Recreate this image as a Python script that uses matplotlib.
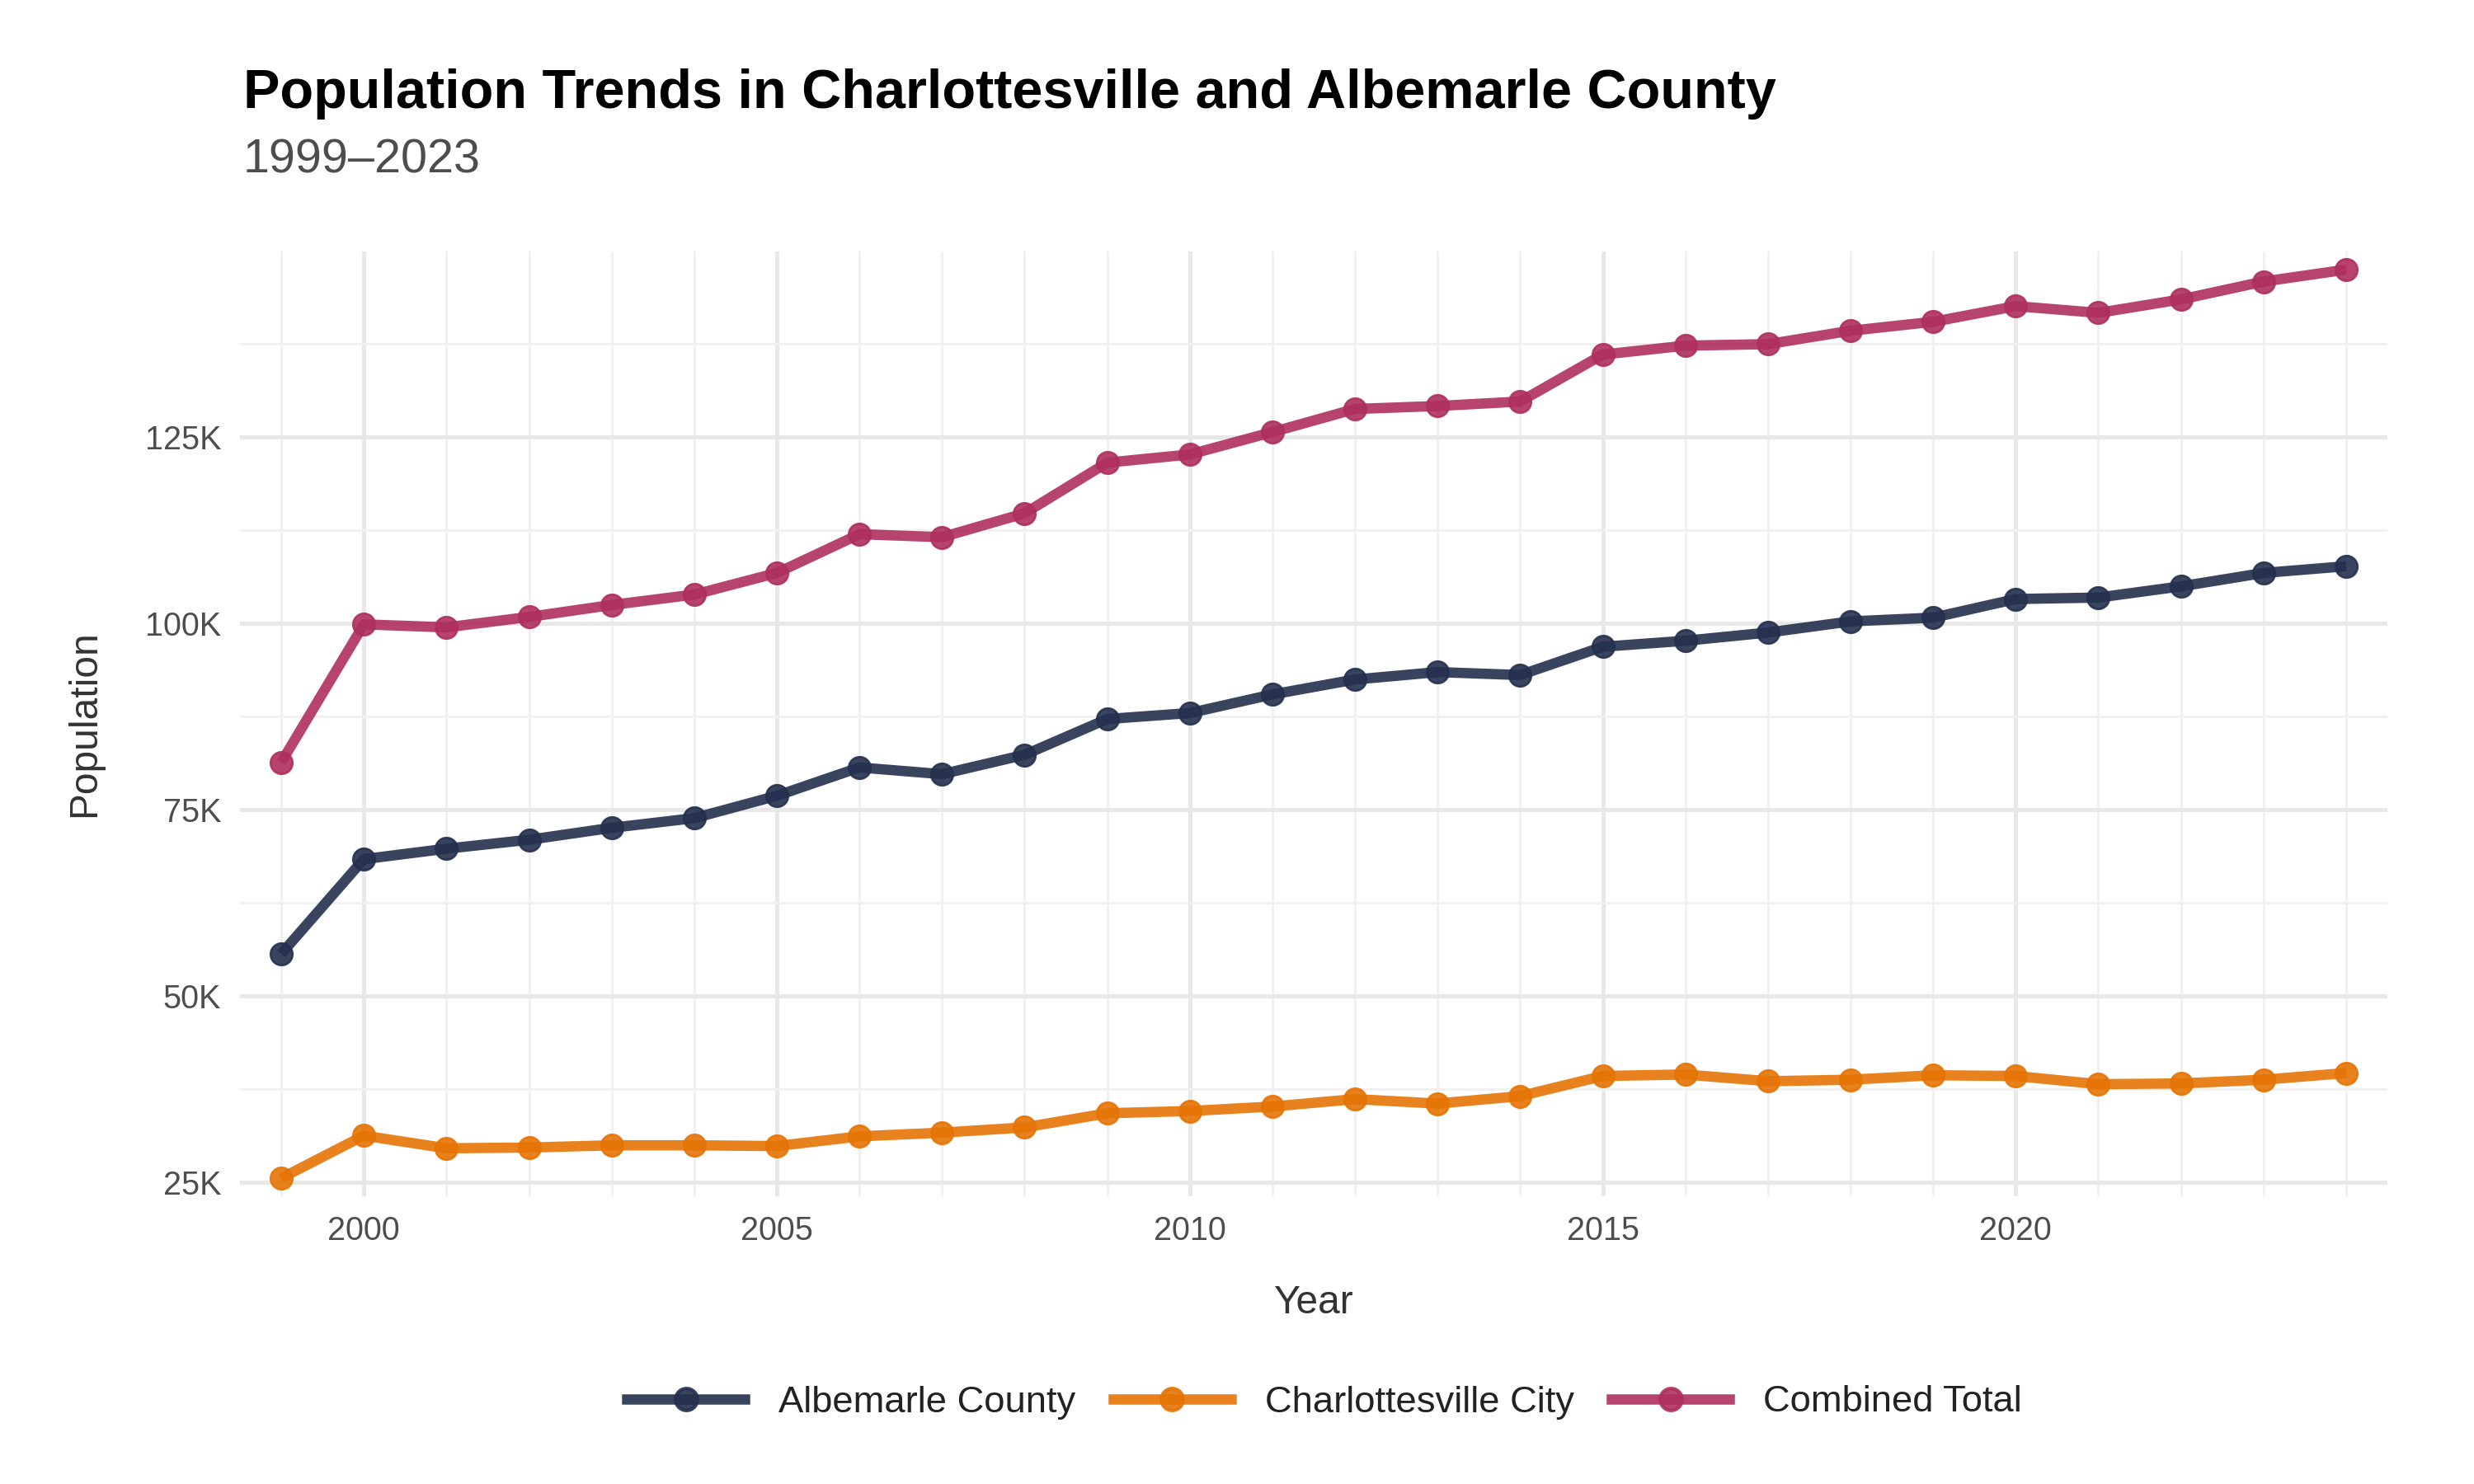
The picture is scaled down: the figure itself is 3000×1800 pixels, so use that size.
import matplotlib
matplotlib.use("Agg")
import matplotlib.pyplot as plt
from matplotlib.ticker import FixedLocator, FuncFormatter
from matplotlib.lines import Line2D

plt.rcParams['font.family'] = ['Liberation Sans', 'DejaVu Sans']

years = list(range(1999, 2025))
albemarle = [55700, 68400, 69800, 71000, 72600, 73900, 76900, 80700, 79800, 82400,
             87200, 88000, 90500, 92500, 93500, 93100, 96900, 97700, 98800, 100300,
             100800, 103300, 103500, 105000, 106800, 107700]
charlottesville = [25600, 31300, 29600, 29700, 30000, 30000, 29900, 31200, 31700, 32400,
                   34300, 34600, 35200, 36200, 35600, 36600, 39300, 39500, 38600, 38800,
                   39400, 39300, 38200, 38300, 38800, 39700]
combined = [81400, 99900, 99500, 100900, 102500, 103900, 106800, 112000, 111600, 114800,
            121600, 122700, 125700, 128800, 129200, 129800, 136100, 137300, 137500, 139300,
            140500, 142600, 141700, 143500, 145900, 147500]

series_names = ["Albemarle County", "Charlottesville City", "Combined Total"]
series_values = [albemarle, charlottesville, combined]
colors = ["#24304E", "#E57405", "#AE2F5E"]

y_major = [25000, 50000, 75000, 100000, 125000]
y_minor = [37500, 62500, 87500, 112500, 137500]
x_major = [2000, 2005, 2010, 2015, 2020]

fig = plt.figure(figsize=(10, 6), dpi=300)
ax = fig.add_axes([291/3000, 1-1451/1800, (2895-291)/3000, (1451-305)/1800])

for name, vals, c in zip(series_names, series_values, colors):
    ax.plot(years, vals, color=c, lw=3.0, alpha=0.9, solid_capstyle='butt', zorder=3)
    ax.plot(years, vals, 'o', color=c, ms=6.4, alpha=0.9, mec=c, mew=0.6, zorder=4)

allv = albemarle + charlottesville + combined
lo, hi = min(allv), max(allv)
rng = hi - lo
ax.set_ylim(lo - 0.02*rng, hi + 0.02*rng)
ax.set_xlim(years[0] - 0.02*(years[-1]-years[0]), years[-1] + 0.02*(years[-1]-years[0]))

ax.yaxis.set_major_locator(FixedLocator(y_major))
ax.yaxis.set_minor_locator(FixedLocator(y_minor))
ax.xaxis.set_major_locator(FixedLocator(x_major))
ax.xaxis.set_minor_locator(FixedLocator([y for y in years if y not in x_major]))
ax.yaxis.set_major_formatter(FuncFormatter(lambda v, p: f"{int(v/1000)}K"))

ax.grid(which='major', color='#E8E8E8', lw=1.2, zorder=0)
ax.grid(which='minor', color='#F1F1F1', lw=0.7, zorder=0)
ax.set_axisbelow(True)
for s in ax.spines.values():
    s.set_visible(False)
ax.tick_params(which='both', length=0)
ax.tick_params(axis='x', pad=5.5, labelsize=9.5, labelcolor='#4D4D4D')
ax.tick_params(axis='y', pad=5.5, labelsize=9.5, labelcolor='#4D4D4D')

ax.set_xlabel("Year", fontsize=11.5, color='#333333', labelpad=11)
ax.set_ylabel("Population", fontsize=11.5, color='#333333', labelpad=12)

fig.text(295/3000, 1-131/1800, "Population Trends in Charlottesville and Albemarle County",
         fontsize=16.0, fontweight='bold', color='black', va='baseline', ha='left')
fig.text(295/3000, 1-209/1800, "1999\u20132023", fontsize=13.8, color='#4D4D4D',
         va='baseline', ha='left')

handles = [Line2D([0], [0], color=c, lw=3.0, alpha=0.9, marker='o', ms=6.4,
                  mfc=c, mec=c) for c in colors]
fig.legend(handles, series_names, loc='center', bbox_to_anchor=(1606/3000, 1-1701/1800),
           ncol=3, frameon=False, fontsize=10.9, handlelength=3.15, handletextpad=0.9,
           columnspacing=1.0, labelcolor='#222222')

fig.savefig("out.png", dpi=300)
